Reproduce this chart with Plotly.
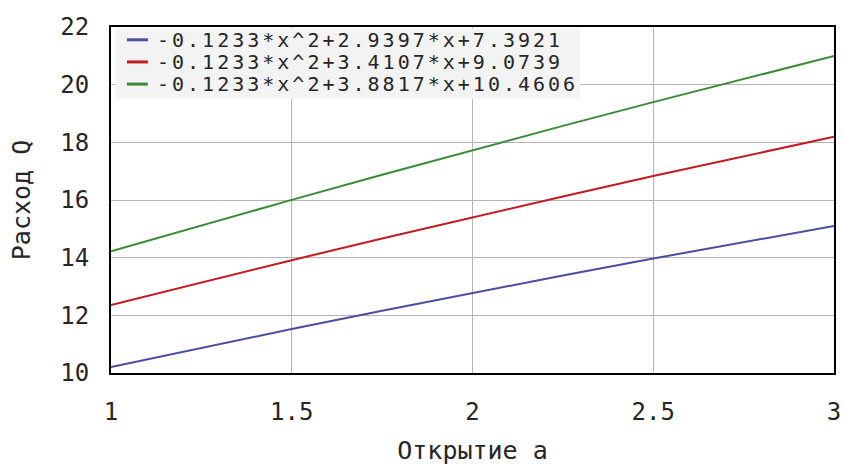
import plotly.graph_objects as go

# Opening a (x) and discharge Q for three regimes, sampled every 0.25
opening = [1.0, 1.25, 1.5, 1.75, 2.0, 2.25, 2.5, 2.75, 3.0]
q_blue = [10.2085, 10.8741, 11.5242, 12.1590, 12.7783, 13.3822, 13.9707, 14.5438, 15.1015]
q_red = [12.3613, 13.1446, 13.9125, 14.6650, 15.4021, 16.1238, 16.8300, 17.5209, 18.1963]
q_green = [14.2190, 15.1201, 16.0057, 16.8760, 17.7308, 18.5702, 19.3942, 20.2028, 20.9960]

labels = [
    "-0.1233*x^2+2.9397*x+7.3921",
    "-0.1233*x^2+3.4107*x+9.0739",
    "-0.1233*x^2+3.8817*x+10.4606",
]
colors = ["#4c4ca0", "#c41a22", "#3a8a36"]
series = [q_blue, q_red, q_green]

x_ticks = [1, 1.5, 2, 2.5, 3]
y_ticks = [10, 12, 14, 16, 18, 20, 22]

FONT = "DejaVu Sans Mono"
TXT = "#262626"

fig = go.Figure()
for vals, name, col in zip(series, labels, colors):
    fig.add_trace(go.Scatter(
        x=opening, y=vals, mode="lines", name=name,
        line=dict(color=col, width=2), showlegend=False,
    ))

# hand-built legend box in the top-left corner of the plot area
shapes = [dict(type="rect", xref="paper", yref="paper",
               x0=0.006, x1=0.649, y0=0.792, y1=0.996,
               fillcolor="#f3f3f3", line=dict(width=0), layer="above")]
annotations = []
row_y = [0.963, 0.899, 0.835]
for name, col, yy in zip(labels, colors, row_y):
    shapes.append(dict(type="line", xref="paper", yref="paper",
                       x0=0.022, x1=0.051, y0=yy, y1=yy,
                       line=dict(color=col, width=3), layer="above"))
    annotations.append(dict(xref="paper", yref="paper", x=0.062, y=yy,
                            text='<span style="letter-spacing:3px">%s</span>' % name,
                            showarrow=False, xanchor="left",
                            yanchor="middle", borderpad=0,
                            font=dict(family=FONT, size=20, color=TXT)))

fig.update_layout(
    width=844, height=465,
    margin=dict(l=111, r=10, t=27, b=92),
    paper_bgcolor="white", plot_bgcolor="white",
    shapes=shapes, annotations=annotations,
    font=dict(family=FONT, size=24, color=TXT),
    xaxis=dict(
        range=[1, 3], tickvals=x_ticks, ticktext=[str(v) for v in x_ticks],
        showgrid=True, gridcolor="#b4b4b4", gridwidth=1,
        showline=True, linecolor="black", linewidth=2, mirror=True,
        ticks="", ticklabelstandoff=16, zeroline=False, automargin=False,
        tickfont=dict(family=FONT, size=24, color=TXT),
        title=dict(text="Открытие a", standoff=30,
                   font=dict(family=FONT, size=25, color=TXT)),
    ),
    yaxis=dict(
        range=[10, 22], tickvals=y_ticks,
        showgrid=True, gridcolor="#b4b4b4", gridwidth=1,
        showline=True, linecolor="black", linewidth=2, mirror=True,
        ticks="", ticklabelstandoff=15, zeroline=False, automargin=False,
        tickfont=dict(family=FONT, size=24, color=TXT),
        title=dict(text="Расход Q", standoff=23,
                   font=dict(family=FONT, size=25, color=TXT)),
    ),
)

fig.write_html("out.html")
